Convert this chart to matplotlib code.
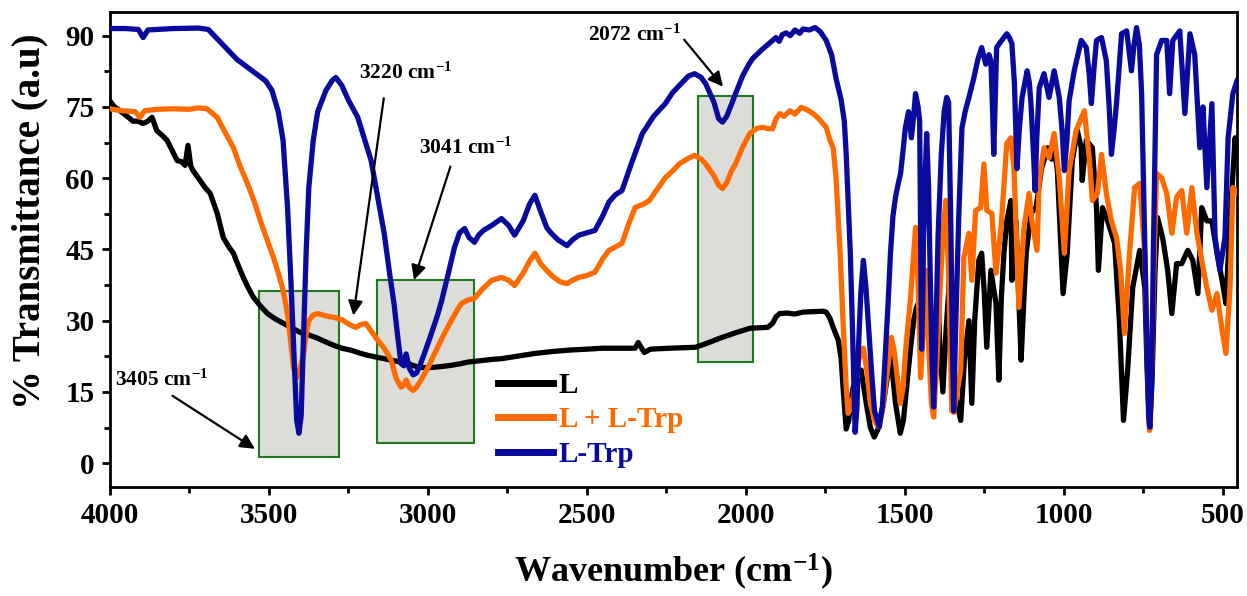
import matplotlib
matplotlib.use("Agg")
import matplotlib.pyplot as plt
from matplotlib.patches import Rectangle
from matplotlib.ticker import MultipleLocator

plt.rcParams['font.family'] = ['Liberation Serif', 'DejaVu Serif']
plt.rcParams['font.weight'] = 'bold'
plt.rcParams['axes.labelweight'] = 'bold'
plt.rcParams['mathtext.fontset'] = 'custom'
plt.rcParams['mathtext.rm'] = 'Liberation Serif:bold'
plt.rcParams['mathtext.bf'] = 'Liberation Serif:bold'
plt.rcParams['mathtext.it'] = 'Liberation Serif:bold:italic'

# ---- data ----
wn_L = [4000, 3985, 3968, 3945, 3927, 3910, 3896, 3880, 3867, 3852, 3835, 3820, 3805, 3788, 3775, 3763,
        3754, 3745, 3738, 3716, 3700, 3684, 3662, 3643, 3625, 3611, 3595, 3580, 3565, 3548, 3525, 3504,
        3480, 3453, 3425, 3400, 3370, 3346, 3320, 3295, 3270, 3242, 3215, 3188, 3160, 3137, 3110, 3084,
        3055, 3030, 3000, 2979, 2950, 2926, 2900, 2872, 2845, 2821, 2790, 2768, 2720, 2663, 2610, 2556,
        2500, 2452, 2400, 2348, 2338, 2330, 2319, 2300, 2240, 2200, 2158, 2120, 2082, 2030, 1987, 1955,
        1930, 1915, 1905, 1893, 1870, 1845, 1820, 1790, 1757, 1747, 1735, 1725, 1709, 1700, 1694, 1684,
        1676, 1670, 1662, 1650, 1637, 1621, 1608, 1596, 1585, 1567, 1555, 1545, 1537, 1529, 1514, 1504,
        1494, 1482, 1472, 1463, 1455, 1446, 1437, 1428, 1420, 1412, 1409, 1403, 1396, 1390, 1380, 1370,
        1360, 1350, 1340, 1324, 1312, 1298, 1289, 1280, 1267, 1258, 1250, 1242, 1236, 1229, 1213, 1204,
        1196, 1188, 1179, 1166, 1163, 1150, 1142, 1134, 1125, 1118, 1103, 1087, 1070, 1050, 1038, 1030,
        1020, 1008, 1002, 989, 973, 957, 945, 942, 929, 910, 897, 891, 878, 862, 840, 825,
        812, 799, 783, 761, 745, 738, 730, 722, 713, 705, 689, 673, 660, 645, 629, 610,
        594, 578, 566, 550, 534, 518, 502, 490, 477, 461, 455]
t_L = [76.3, 75, 74.2, 73, 72, 72, 71.5, 72, 72.8, 70, 69, 68, 66, 63.7, 63.5, 62.7,
       66.9, 62.5, 61.6, 59.5, 58, 56.8, 52.6, 47.5, 45.5, 44.2, 41.5, 39.1, 37, 34.9, 33, 31.5,
       30.4, 29.4, 28.4, 27.5, 26.9, 26.3, 25.5, 24.8, 24.2, 23.8, 23.2, 22.7, 22.3, 22, 21.6, 21.3,
       20.8, 20.2, 20.1, 20.2, 20.4, 20.6, 20.9, 21.3, 21.5, 21.7, 21.9, 22, 22.5, 23.1, 23.5, 23.8,
       24, 24.2, 24.2, 24.2, 25.4, 24.5, 23.3, 24, 24.2, 24.3, 24.4, 25.3, 26.3, 27.5, 28.4, 28.5,
       28.6, 29.5, 30.8, 31.5, 31.6, 31.4, 31.8, 31.9, 32, 31.8, 30.5, 28.6, 25.9, 22, 16, 7.2,
       9, 13, 16, 18, 19.6, 12.6, 7.5, 5.5, 7, 12.6, 18, 23, 18, 12.6, 6.3, 9,
       16, 24, 30, 32.8, 34, 28, 33, 36, 30, 15, 11.8, 26, 38, 25, 15, 28,
       38, 22, 14, 9, 22, 30, 12.6, 30, 42.7, 44.2, 36, 24.4, 32, 40.6, 33.6, 17.5,
       35, 44.2, 51, 55.3, 38.5, 51, 36, 21.7, 35, 44.2, 52.6, 53.8, 62, 66.4, 64, 66.4,
       61.6, 44.2, 35.7, 44.2, 63.7, 70, 66.4, 59.5, 68, 66.4, 53.8, 40.6, 53.8, 51, 46.3, 30,
       9, 19.6, 37, 44.8, 37, 20, 7.2, 18, 40, 51.7, 47.5, 40.6, 31.5, 42, 42, 44.8,
       42.7, 35.7, 53.8, 51, 51, 44.2, 38.5, 33.6, 51, 68.5, 63.7]

wn_mix = [4000, 3960, 3920, 3905, 3890, 3850, 3800, 3750, 3720, 3694, 3662, 3640, 3611, 3590, 3567, 3545,
          3526, 3505, 3485, 3470, 3457, 3445, 3438, 3430, 3422, 3412, 3405, 3398, 3390, 3383, 3374, 3360,
          3346, 3320, 3295, 3270, 3251, 3235, 3226, 3210, 3194, 3180, 3157, 3135, 3115, 3100, 3084, 3075,
          3068, 3058, 3046, 3035, 3021, 3000, 2979, 2950, 2926, 2905, 2894, 2875, 2853, 2830, 2799, 2768,
          2745, 2727, 2700, 2680, 2663, 2645, 2625, 2610, 2585, 2562, 2545, 2525, 2500, 2474, 2450, 2430,
          2410, 2389, 2370, 2348, 2320, 2303, 2280, 2253, 2230, 2209, 2180, 2161, 2140, 2126, 2100, 2085,
          2073, 2060, 2045, 2032, 2010, 1987, 1965, 1946, 1930, 1915, 1905, 1893, 1880, 1861, 1845, 1826,
          1810, 1788, 1770, 1757, 1747, 1735, 1725, 1716, 1703, 1694, 1684, 1678, 1670, 1662, 1650, 1640,
          1630, 1620, 1608, 1595, 1583, 1570, 1561, 1550, 1542, 1534, 1526, 1514, 1505, 1498, 1490, 1482,
          1474, 1466, 1458, 1450, 1442, 1434, 1425, 1416, 1409, 1400, 1390, 1380, 1371, 1362, 1352, 1346,
          1335, 1324, 1314, 1298, 1289, 1277, 1261, 1251, 1242, 1226, 1213, 1197, 1179, 1166, 1156, 1141,
          1125, 1109, 1100, 1084, 1077, 1062, 1046, 1030, 1014, 998, 983, 961, 935, 919, 910, 894,
          881, 866, 850, 834, 821, 809, 793, 777, 761, 745, 736, 730, 724, 715, 708, 692,
          676, 660, 645, 629, 613, 597, 581, 566, 550, 534, 518, 502, 490, 477, 468, 455]
t_mix = [74.6, 74.2, 74, 72.8, 74.2, 74.5, 74.6, 74.5, 74.8, 74.6, 72.8, 70, 66.4, 62.5, 58.9, 55,
         51, 47, 43.3, 40, 37, 33, 30, 25, 20, 18, 19, 21, 23, 27, 30, 31.2,
         31.5, 31, 30.7, 30.2, 29.4, 28.8, 28.6, 29.2, 29.4, 28, 25.9, 24, 21.7, 18, 16, 16.5,
         17.5, 16, 15.3, 16, 17.5, 20, 23, 27, 30, 32.5, 33.6, 34.3, 34.7, 36.5, 38.5, 39.1,
         38.5, 37.4, 40, 42.5, 44.2, 42, 40.5, 39.5, 38.2, 37.8, 38.5, 39.1, 39.5, 40.2, 43, 44.8,
         45.5, 46.3, 50, 53.8, 54.6, 55.3, 57.5, 60.1, 61.5, 63, 64.2, 64.8, 64, 63, 60.5, 58.5,
         57.8, 59, 61.5, 63, 66.5, 69.4, 70.5, 70.7, 70.4, 70.4, 72.5, 73.6, 73, 74.2, 73.5, 74.9,
         74.5, 73.6, 72.5, 71.5, 70.7, 68, 66.4, 60.1, 44.2, 30, 16, 10.5, 11.5, 13.9, 20, 23,
         24.2, 20, 12.6, 9, 7.6, 11, 16, 22, 26.5, 24, 19.6, 12.6, 16, 23, 29, 34.3,
         42, 49.6, 38, 18, 28, 40.6, 25, 12.6, 9.7, 20, 35, 48, 55.3, 40, 11, 10.7,
         15, 19.6, 43.3, 48.4, 38.5, 53.2, 53.8, 63, 53.2, 52.6, 40, 49.6, 67.3, 68.5, 61.6, 32.8,
         49.6, 56.8, 51, 44.8, 59.5, 66.4, 64.3, 69.4, 60.1, 44.2, 61.6, 70, 74.2, 63.7, 55.3, 56.8,
         65, 56.8, 51, 47.5, 40.6, 27.3, 44.2, 58, 58.9, 44, 20, 6.9, 18, 45, 61, 60.1,
         56.8, 48.4, 56, 57.4, 48.4, 58, 48.4, 42.7, 37, 32.2, 35.7, 28, 23.1, 37, 58, 57]

wn_trp = [4000, 3950, 3910, 3895, 3880, 3800, 3720, 3690, 3650, 3600, 3550, 3510, 3490, 3470, 3455, 3441,
          3430, 3420, 3412, 3405, 3398, 3390, 3382, 3374, 3360, 3346, 3320, 3300, 3289, 3270, 3250, 3220,
          3200, 3178, 3160, 3137, 3120, 3106, 3095, 3084, 3075, 3068, 3058, 3046, 3035, 3025, 3011, 2990,
          2970, 2957, 2935, 2916, 2900, 2884, 2870, 2853, 2840, 2825, 2800, 2768, 2745, 2727, 2700, 2680,
          2663, 2645, 2625, 2610, 2590, 2562, 2545, 2525, 2500, 2474, 2450, 2430, 2410, 2389, 2360, 2325,
          2290, 2253, 2230, 2209, 2180, 2161, 2140, 2126, 2100, 2085, 2073, 2060, 2045, 2032, 2010, 1990,
          1978, 1950, 1924, 1905, 1895, 1885, 1873, 1860, 1845, 1830, 1820, 1800, 1782, 1765, 1747, 1730,
          1716, 1700, 1690, 1684, 1676, 1671, 1665, 1662, 1656, 1650, 1645, 1638, 1630, 1622, 1615, 1605,
          1595, 1580, 1570, 1561, 1552, 1545, 1537, 1529, 1520, 1513, 1505, 1498, 1488, 1479, 1472, 1466,
          1458, 1453, 1449, 1447, 1443, 1441, 1436, 1431, 1425, 1420, 1414, 1409, 1403, 1395, 1385, 1376,
          1368, 1362, 1355, 1350, 1346, 1340, 1330, 1320, 1310, 1298, 1283, 1270, 1258, 1245, 1235, 1229,
          1224, 1220, 1215, 1211, 1195, 1179, 1170, 1163, 1155, 1147, 1140, 1131, 1115, 1108, 1103, 1095,
          1090, 1085, 1077, 1062, 1046, 1030, 1014, 1005, 998, 990, 983, 967, 945, 929, 920, 913,
          905, 897, 881, 866, 857, 850, 842, 834, 818, 802, 795, 787, 779, 771, 762, 755,
          748, 740, 733, 729, 724, 718, 708, 692, 676, 667, 657, 635, 619, 603, 588, 572,
          562, 550, 534, 524, 509, 493, 483, 468, 455]
t_trp = [91.5, 91.5, 91.3, 89.6, 91.2, 91.5, 91.6, 91.3, 88.5, 85, 82.5, 80.5, 78.5, 74, 68, 54,
         38, 22, 9, 6.3, 10, 28, 45, 58, 68, 74, 78.5, 80.6, 81.2, 79.5, 76.5, 72.8,
         68.5, 63.7, 57, 48.4, 40, 33.6, 27, 21, 20.5, 23, 20, 18.6, 19, 20.5, 23, 27,
         31, 34, 40, 45.4, 48.5, 49.4, 47.5, 46.5, 48, 49, 50, 51.5, 50, 48, 51, 54.5,
         56.4, 53, 49.5, 48.3, 47, 45.8, 47, 48, 48.5, 49, 52, 55, 56.5, 57.4, 63, 69.4,
         73, 75.7, 78, 79.5, 81.5, 82, 81.2, 79.9, 76, 72.5, 71.8, 73, 75.5, 77.8, 81.5, 84,
         85.2, 87, 88.5, 89.6, 88.8, 90.2, 90.6, 90, 91.2, 90.5, 91.4, 91.2, 91.7, 90.8, 89, 86,
         81, 76.5, 72, 65, 52, 44, 30, 22, 6.5, 12, 25, 36, 42.7, 37, 30, 20,
         11, 7.6, 12, 23, 34, 44, 52, 56, 59, 61, 66, 70.6, 74, 68.5, 73, 77.8,
         75, 72, 40, 24, 35, 47.5, 60, 69.4, 58, 40, 22, 11.8, 25, 48, 65, 74,
         77, 76, 50, 25, 11, 28, 52, 70.6, 74, 77, 81, 85, 87.5, 84, 86, 84.7,
         75, 65, 78, 87.5, 89, 90.4, 89.5, 88.3, 80, 62, 70, 77, 82.6, 80, 75.7, 65,
         57.4, 68, 79, 82, 77, 82.6, 77, 70, 61.6, 68, 76.3, 82.6, 89, 87.5, 82, 75.7,
         83, 89, 89.6, 84.7, 75, 65, 70, 75.7, 90.4, 91, 87, 82.6, 88, 91.7, 88, 77.8,
         55, 30, 10, 7.6, 15, 45, 86, 89, 89, 77.8, 89, 91, 73.6, 90.4, 86, 66.4,
         75, 58, 75.7, 47.5, 40.6, 47.5, 68.5, 77.8, 80.5]

series_labels = ['L', 'L + L-Trp', 'L-Trp']
series_colors = ['#000000', '#ff6a00', '#0a0a9e']

# highlighted bands: (wn_high, wn_low, t_low, t_high)
boxes = [(3532, 3280, 1.3, 36.2), (3160, 2856, 4.2, 38.5), (2149, 1978, 21.4, 77.4)]

# peak labels: text, text pos, arrow start, arrow tip
peak_notes = [
    ('3405 cm$^{-1}$', (3984, 17.5), (3810, 14.5), (3536, 2.7)),
    ('3220 cm$^{-1}$', (3216, 82.0), (3137, 77.4), (3235, 30.5)),
    ('3041 cm$^{-1}$', (3027, 66.4), (2926, 63.0), (3046, 38.0)),
    ('2072 cm$^{-1}$', (2496, 90.0), (2199, 89.6), (2066, 78.8)),
]

fig = plt.figure(figsize=(12.47, 5.96), dpi=100)
ax = fig.add_axes([0.088, 0.183, 0.904, 0.797])

for (hi, lo, b, t) in boxes:
    ax.add_patch(Rectangle((lo, b), hi - lo, t - b, facecolor='#dcdcd8',
                           edgecolor='#1e7a1e', lw=1.5, zorder=1))

for wn, t, lab, c in zip([wn_L, wn_mix, wn_trp], [t_L, t_mix, t_trp], series_labels, series_colors):
    ax.plot(wn, t, color=c, lw=3.8, label=lab, zorder=3, solid_joinstyle='round')

for txt, tp, start, tip in peak_notes:
    ax.text(tp[0], tp[1], txt, fontsize=15.5, fontweight='bold', ha='left', va='center', zorder=5)
    ax.annotate('', xy=tip, xytext=start,
                arrowprops=dict(arrowstyle='-|>', color='k', lw=1.6, mutation_scale=22),
                zorder=5)

ax.set_xlim(4000, 455)
ax.set_ylim(-5, 95)
ax.xaxis.set_major_locator(MultipleLocator(500))
ax.xaxis.set_minor_locator(MultipleLocator(250))
ax.yaxis.set_major_locator(MultipleLocator(15))
ax.yaxis.set_minor_locator(MultipleLocator(7.5))
ax.tick_params(which='major', direction='out', length=6, width=2, labelsize=21, pad=5)
ax.tick_params(which='minor', direction='out', length=4, width=2)
for s in ax.spines.values():
    s.set_linewidth(2)

ax.set_xlabel('Wavenumber (cm$^{-1}$)', fontsize=26)
ax.set_ylabel('% Transmittance (a.u)', fontsize=28)
ax.xaxis.set_label_coords(0.5, -0.135)
ax.yaxis.set_label_coords(-0.054, 0.56)

leg = ax.legend(loc='center left', bbox_to_anchor=(0.344, 0.141), frameon=False,
                fontsize=21, handlelength=1.9, handletextpad=0.2, labelspacing=0.25,
                borderpad=0, borderaxespad=0, labelcolor='linecolor')
for ln in leg.get_lines():
    ln.set_linewidth(5)

fig.savefig('out.png', dpi=100)
